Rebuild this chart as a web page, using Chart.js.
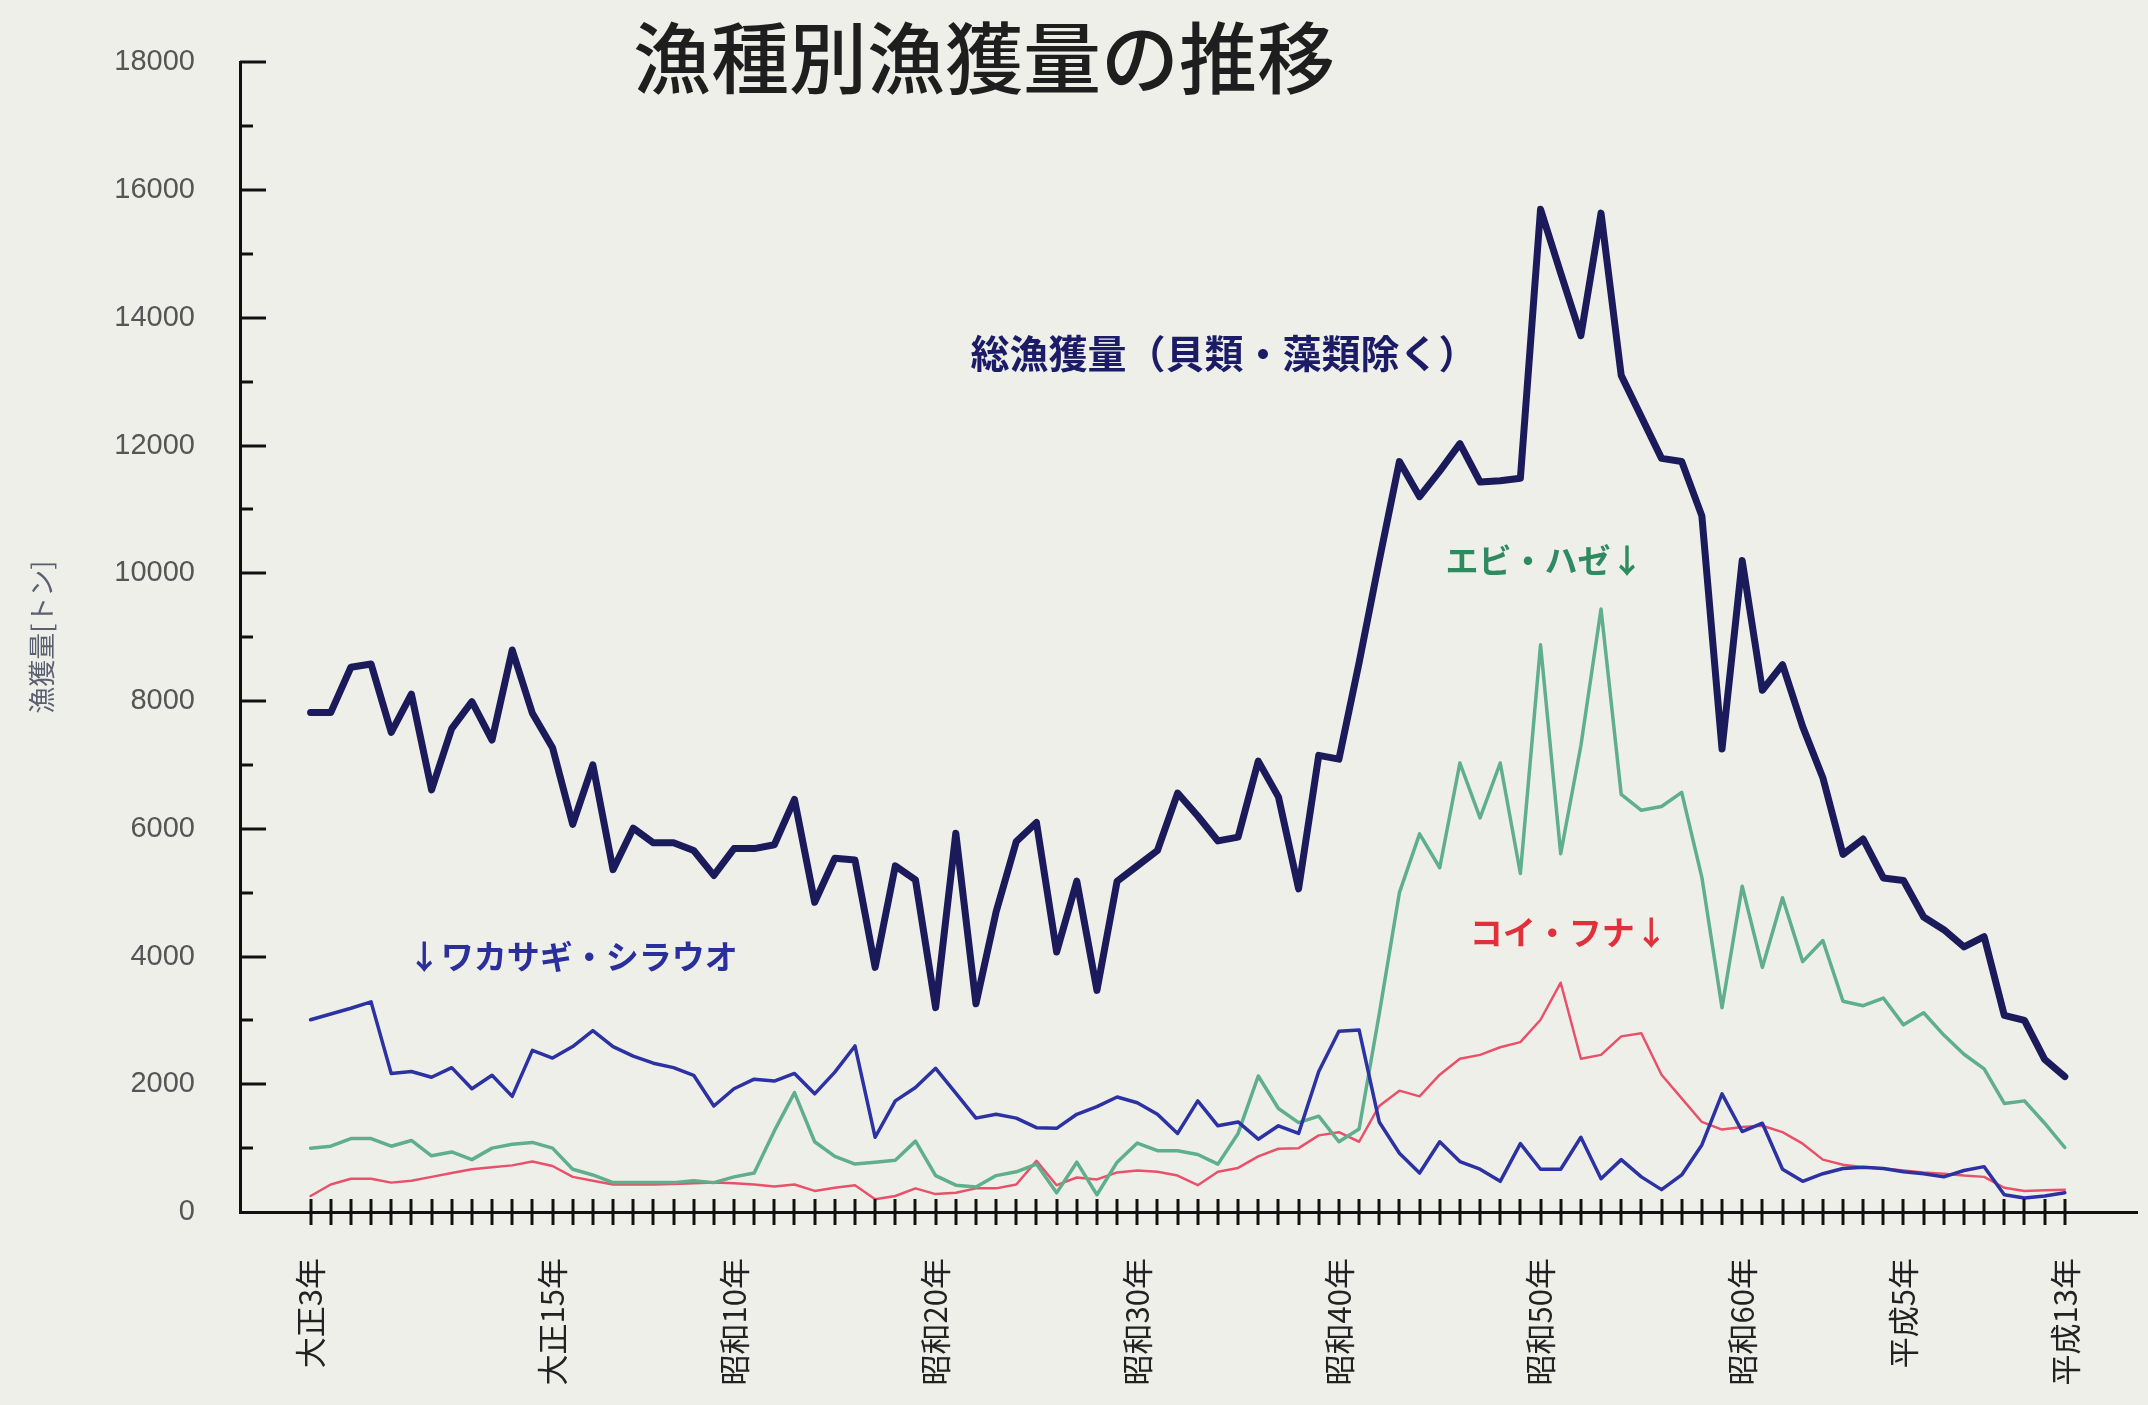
<!DOCTYPE html>
<html lang="ja">
<head>
<meta charset="utf-8">
<title>漁種別漁獲量の推移</title>
<script src="https://cdn.jsdelivr.net/npm/chart.js@4.4.1/dist/chart.umd.min.js"></script>
<style>
  html, body { margin: 0; padding: 0; background: #efefea; }
  #wrap { width: 2148px; height: 1405px; }
</style>
</head>
<body>
<div id="wrap"><canvas id="catchChart" width="2148" height="1405"></canvas></div>
<script>
document.addEventListener("DOMContentLoaded", function () {

/* ================= DATA ================= */
const years = [
  1914,1915,1916,1917,1918,1919,1920,1921,1922,1923,1924,1925,1926,1927,1928,1929,
  1930,1931,1932,1933,1934,1935,1936,1937,1938,1939,1940,1941,1942,1943,1944,1945,
  1946,1947,1948,1949,1950,1951,1952,1953,1954,1955,1956,1957,1958,1959,1960,1961,
  1962,1963,1964,1965,1966,1967,1968,1969,1970,1971,1972,1973,1974,1975,1976,1977,
  1978,1979,1980,1981,1982,1983,1984,1985,1986,1987,1988,1989,1990,1991,1992,1993,
  1994,1995,1996,1997,1998,1999,2000,2001
];

const tickYears  = [1914, 1926, 1935, 1945, 1955, 1965, 1975, 1985, 1993, 2001];
const tickLabels = ["大正3年", "大正15年", "昭和10年", "昭和20年", "昭和30年",
                    "昭和40年", "昭和50年", "昭和60年", "平成5年", "平成13年"];

// 総漁獲量（貝類・藻類除く）
const totalCatch = [
  7820, 7820, 8530, 8580, 7510, 8110, 6610, 7570, 7990, 7390, 8800, 7810, 7270, 6070, 7000, 5360,
  6010, 5780, 5780, 5660, 5270, 5690, 5690, 5750, 6460, 4850, 5540, 5510, 3830, 5420, 5200, 3200,
  5930, 3260, 4700, 5800, 6100, 4070, 5180, 3470, 5180, 5420, 5660, 6560, 6200, 5810, 5870, 7060,
  6500, 5060, 7150, 7090, 8600, 10200, 11750, 11200, 11600, 12030, 11430, 11450, 11490, 15700, 14700, 13720,
  15640, 13100, 12450, 11800, 11750, 10900, 7250, 10200, 8170, 8570, 7600, 6800, 5600, 5840, 5230, 5190,
  4620, 4420, 4150, 4310, 3080, 3000, 2390, 2120
];

// ワカサギ・シラウオ
const smeltCatch = [
  3010, 3100, 3190, 3290, 2170, 2200, 2110, 2260, 1930, 2140, 1810, 2530, 2410, 2590, 2840, 2590,
  2440, 2330, 2260, 2140, 1660, 1930, 2080, 2050, 2170, 1850, 2190, 2600, 1170, 1740, 1950, 2250,
  1860, 1470, 1530, 1470, 1320, 1310, 1530, 1650, 1800, 1710, 1530, 1230, 1740, 1350, 1410, 1140,
  1350, 1230, 2200, 2830, 2850, 1410, 920, 610, 1100, 790, 670, 480, 1070, 670, 670, 1170,
  520, 820, 550, 350, 580, 1050, 1850, 1260, 1390, 670, 480, 600, 680, 700, 680, 630,
  600, 550, 650, 710, 270, 220, 250, 300
];

// エビ・ハゼ
const shrimpCatch = [
  1000, 1030, 1150, 1150, 1030, 1120, 880, 940, 820, 1000, 1060, 1090, 1000, 670, 580, 460,
  460, 460, 460, 490, 460, 550, 610, 1270, 1870, 1100, 870, 750, 780, 810, 1110, 570,
  420, 390, 570, 630, 750, 300, 780, 270, 780, 1080, 960, 960, 900, 750, 1230, 2130,
  1620, 1400, 1500, 1100, 1300, 3100, 5000, 5920, 5390, 7030, 6170, 7030, 5300, 8880, 5610, 7300,
  9440, 6540, 6290, 6350, 6570, 5240, 3200, 5100, 3830, 4920, 3920, 4250, 3300, 3230, 3350, 2930,
  3120, 2770, 2470, 2240, 1700, 1740, 1390, 1010
];

// コイ・フナ
const carpCatch = [
  250, 430, 520, 520, 460, 490, 550, 610, 670, 700, 730, 790, 720, 550, 490, 430,
  430, 430, 440, 450, 460, 450, 430, 400, 430, 330, 380, 420, 200, 250, 370, 280,
  300, 370, 370, 430, 800, 420, 540, 510, 620, 650, 630, 570, 420, 630, 690, 870,
  990, 1000, 1200, 1250, 1100, 1660, 1900, 1810, 2150, 2400, 2460, 2580, 2660, 3010, 3590, 2400,
  2460, 2750, 2800, 2150, 1780, 1410, 1290, 1330, 1350, 1250, 1070, 820, 740, 700, 680, 650,
  620, 600, 570, 550, 380, 330, 340, 350
];

const seriesNotes = [
  { text: "総漁獲量（貝類・藻類除く）", year: 1959.3, value: 13440, color: "#1c1c66", size: 39 },
  { text: "↓ワカサギ・シラウオ",        year: 1927.0, value: 4000,  color: "#2a2f9c", size: 33 },
  { text: "エビ・ハゼ↓",                year: 1975.2, value: 10200, color: "#2f8a5f", size: 33 },
  { text: "コイ・フナ↓",                year: 1976.4, value: 4380,  color: "#e0303a", size: 33 }
];

function toPoints(values) {
    return values.map((v, i) => ({ x: years[i], y: v }));
}

/* ================= DECORATIONS ================= */
const decorations = {
    id: "decorations",
    afterDatasetsDraw(chart) {
        const { ctx, scales: { x, y } } = chart;
        const base = y.getPixelForValue(0);
        const left = x.left;

        ctx.save();
        ctx.strokeStyle = "#111";
        ctx.lineWidth = 3;

        // year ticks crossing the x axis
        years.forEach(yr => {
            const px = Math.round(x.getPixelForValue(yr));
            ctx.beginPath();
            ctx.moveTo(px, base - 13);
            ctx.lineTo(px, base + 13);
            ctx.stroke();
        });

        // inward ticks on the y axis
        for (let v = 1000; v <= 18000; v += 1000) {
            const py = Math.round(y.getPixelForValue(v));
            const len = v % 2000 === 0 ? 26 : 13;
            ctx.beginPath();
            ctx.moveTo(left, py);
            ctx.lineTo(left + len, py);
            ctx.stroke();
        }

        // series notes
        ctx.textAlign = "center";
        ctx.textBaseline = "middle";
        seriesNotes.forEach(n => {
            ctx.font = "bold " + n.size + "px 'Noto Sans CJK JP'";
            ctx.fillStyle = n.color;
            ctx.fillText(n.text, x.getPixelForValue(n.year), y.getPixelForValue(n.value));
        });

        // title
        ctx.font = "500 78px 'Noto Sans CJK JP'";
        ctx.fillStyle = "#1e1e1e";
        ctx.fillText("漁種別漁獲量の推移", 984, 58);

        ctx.restore();
    }
};

/* ================= CHART ================= */
new Chart(document.getElementById("catchChart"), {
    type: "line",
    data: {
        datasets: [
            { label: "総漁獲量", data: toPoints(totalCatch),  borderColor: "#1b1b5c", borderWidth: 7 },
            { label: "ワカサギ・シラウオ", data: toPoints(smeltCatch),  borderColor: "#2c32a2", borderWidth: 3.5 },
            { label: "エビ・ハゼ", data: toPoints(shrimpCatch), borderColor: "#5fae8c", borderWidth: 3.5 },
            { label: "コイ・フナ", data: toPoints(carpCatch),   borderColor: "#e9506a", borderWidth: 2.5 }
        ]
    },
    options: {
        responsive: false,
        animation: false,
        devicePixelRatio: 1,
        layout: { padding: { top: 60, right: 0, left: 0, bottom: 0 } },
        elements: {
            point: { radius: 0 },
            line: { tension: 0, borderJoinStyle: "round", borderCapStyle: "round" }
        },
        plugins: {
            legend: { display: false },
            tooltip: { enabled: false },
            title: { display: false }
        },
        scales: {
            x: {
                type: "linear",
                min: 1910.5,
                max: 2004.6,
                afterBuildTicks: s => { s.ticks = tickYears.map(v => ({ value: v })); },
                afterFit: s => { s.height = 193; },
                grid: { display: false, drawTicks: false },
                border: { display: true, color: "#111", width: 3 },
                ticks: {
                    autoSkip: false,
                    minRotation: 90,
                    maxRotation: 90,
                    padding: 46,
                    color: "#222",
                    font: { family: "'Noto Sans CJK JP'", size: 31 },
                    callback: v => {
                        const k = tickYears.indexOf(v);
                        return k >= 0 ? tickLabels[k] : "";
                    }
                }
            },
            y: {
                min: 0,
                max: 18000,
                afterFit: s => { s.width = 240; },
                grid: { display: false, drawTicks: false },
                border: { display: true, color: "#111", width: 3 },
                ticks: {
                    stepSize: 2000,
                    padding: 45,
                    color: "#555",
                    font: { family: "'Liberation Sans'", size: 29 },
                    callback: v => String(v)
                },
                title: {
                    display: true,
                    text: "漁獲量[トン]",
                    color: "#5a6070",
                    font: { family: "'Noto Sans CJK JP'", size: 27 },
                    padding: { top: 26, bottom: 0 }
                }
            }
        }
    },
    plugins: [decorations]
});

});
</script>
</body>
</html>
